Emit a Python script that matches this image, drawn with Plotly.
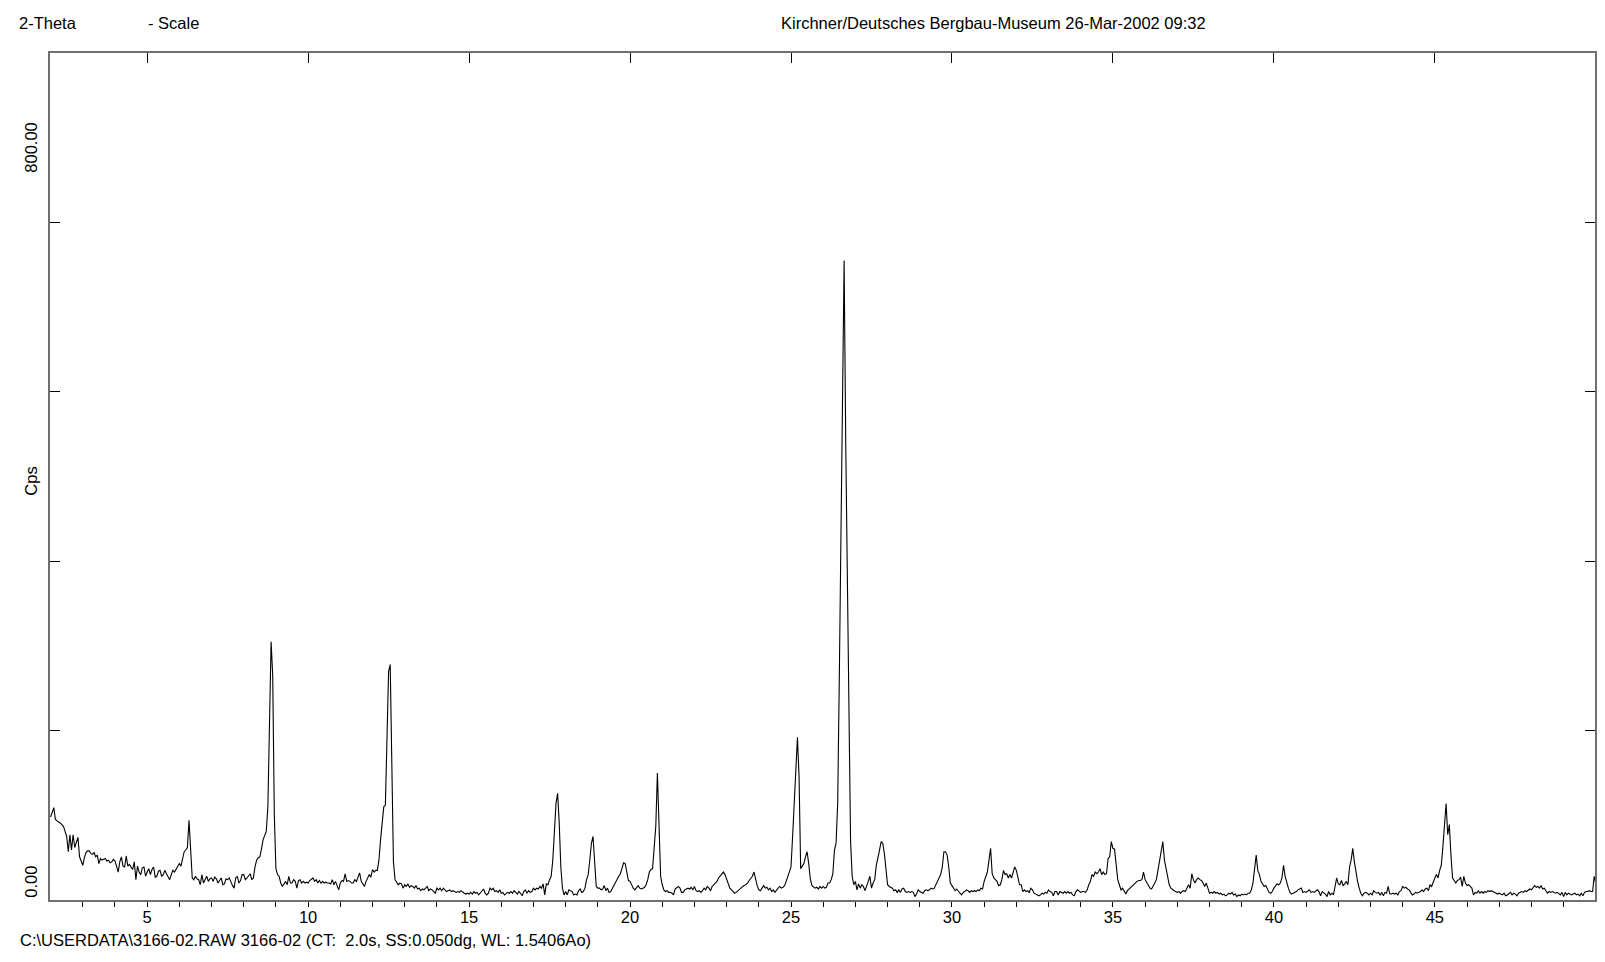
import plotly.graph_objects as go

# ---- data: XRD scan, 2-Theta from 2.00 to 50.00 deg, step 0.05 deg ----
START_DEG = 2
STEP = 0.05

# one row per degree (2.00..2.95, 3.00..3.95, ...), 20 readings per row, Cps
row_02 = [98, 104, 109, 95, 93, 92, 91, 89, 87, 81, 75, 57, 77, 59, 77, 62, 69, 74, 51, 46]
row_03 = [41, 50, 56, 58, 58, 55, 54, 56, 51, 53, 43, 49, 47, 48, 49, 46, 47, 44, 45, 48]
row_04 = [46, 40, 33, 45, 51, 40, 39, 52, 40, 42, 39, 36, 45, 24, 40, 33, 30, 38, 39, 28]
row_05 = [33, 37, 30, 36, 39, 27, 28, 34, 35, 28, 30, 35, 31, 27, 24, 30, 35, 33, 37, 40]
row_06 = [43, 40, 47, 57, 59, 62, 94, 55, 26, 24, 28, 25, 24, 18, 30, 20, 24, 28, 22, 25]
row_07 = [26, 22, 27, 25, 20, 24, 26, 18, 19, 25, 24, 26, 21, 17, 14, 26, 28, 20, 23, 30]
row_08 = [30, 24, 26, 28, 31, 24, 26, 39, 47, 50, 51, 60, 71, 76, 81, 110, 190, 305, 265, 100]
row_09 = [37, 30, 28, 20, 16, 20, 22, 18, 28, 20, 20, 24, 22, 14, 23, 24, 20, 22, 20, 21]
row_10 = [20, 23, 24, 26, 22, 24, 20, 23, 20, 22, 20, 21, 20, 20, 19, 24, 18, 22, 17, 12]
row_11 = [20, 23, 22, 31, 22, 23, 22, 20, 20, 24, 22, 26, 32, 22, 19, 16, 22, 26, 30, 27]
row_12 = [36, 33, 35, 35, 47, 71, 87, 110, 112, 180, 270, 278, 150, 45, 24, 20, 18, 20, 19, 14]
row_13 = [18, 16, 19, 15, 17, 16, 14, 17, 13, 14, 11, 13, 12, 14, 16, 11, 13, 12, 10, 8]
row_14 = [14, 12, 14, 11, 14, 12, 10, 11, 12, 10, 11, 10, 9, 10, 9, 11, 9, 8, 7, 8]
row_15 = [7, 9, 7, 10, 8, 9, 6, 8, 10, 13, 8, 6, 8, 14, 12, 14, 10, 11, 9, 12]
row_16 = [8, 9, 6, 8, 9, 8, 10, 8, 11, 9, 7, 10, 8, 5, 10, 12, 8, 11, 9, 10]
row_17 = [14, 12, 14, 13, 16, 14, 19, 6, 19, 18, 24, 28, 47, 79, 114, 126, 91, 39, 14, 6]
row_18 = [10, 6, 12, 11, 10, 6, 7, 6, 11, 13, 9, 10, 14, 24, 30, 47, 67, 75, 47, 16]
row_19 = [14, 14, 12, 13, 17, 11, 14, 9, 10, 14, 18, 20, 24, 28, 31, 39, 44, 43, 31, 23]
row_20 = [22, 17, 14, 12, 14, 17, 14, 13, 14, 15, 18, 24, 33, 36, 37, 63, 87, 150, 87, 28]
row_21 = [18, 12, 10, 11, 9, 9, 8, 6, 13, 14, 16, 14, 9, 9, 12, 13, 14, 13, 15, 12]
row_22 = [16, 11, 10, 11, 9, 11, 14, 12, 16, 14, 11, 16, 18, 20, 22, 26, 28, 31, 33, 30]
row_23 = [24, 18, 14, 12, 10, 8, 9, 11, 12, 14, 16, 17, 18, 20, 23, 26, 28, 33, 24, 17]
row_24 = [12, 11, 14, 17, 14, 15, 12, 14, 10, 12, 9, 12, 14, 16, 14, 15, 17, 22, 28, 33]
row_25 = [39, 75, 118, 157, 192, 146, 37, 40, 43, 51, 57, 43, 25, 17, 16, 14, 15, 13, 16, 14]
row_26 = [16, 14, 15, 20, 20, 24, 31, 59, 67, 114, 260, 450, 640, 755, 540, 360, 190, 70, 28, 18]
row_27 = [22, 12, 19, 14, 18, 16, 11, 18, 22, 28, 14, 20, 24, 41, 49, 59, 69, 67, 55, 31]
row_28 = [18, 16, 15, 14, 11, 12, 9, 12, 9, 13, 14, 10, 9, 10, 9, 10, 9, 4, 7, 12]
row_29 = [10, 9, 8, 11, 12, 11, 12, 14, 13, 14, 18, 22, 26, 30, 39, 57, 57, 53, 39, 20]
row_30 = [17, 14, 11, 13, 10, 8, 6, 9, 10, 12, 11, 9, 11, 10, 11, 10, 12, 11, 14, 13]
row_31 = [22, 28, 33, 47, 61, 31, 26, 24, 22, 17, 18, 24, 35, 30, 31, 26, 30, 26, 33, 39]
row_32 = [35, 26, 18, 18, 10, 12, 10, 11, 9, 14, 12, 8, 7, 6, 5, 6, 8, 7, 9, 8]
row_33 = [12, 10, 9, 5, 10, 10, 6, 10, 9, 8, 10, 8, 10, 8, 9, 6, 5, 10, 12, 10]
row_34 = [9, 10, 10, 9, 12, 18, 22, 30, 28, 33, 31, 33, 37, 30, 33, 30, 31, 49, 51, 69]
row_35 = [61, 60, 43, 24, 18, 12, 14, 11, 7, 11, 13, 14, 16, 18, 20, 22, 23, 23, 24, 33]
row_36 = [24, 20, 17, 14, 13, 16, 20, 24, 35, 47, 59, 69, 47, 37, 26, 18, 14, 12, 11, 10]
row_37 = [9, 10, 8, 10, 11, 10, 14, 18, 14, 31, 24, 20, 24, 26, 24, 23, 20, 16, 20, 14]
row_38 = [8, 9, 8, 10, 8, 9, 7, 8, 6, 7, 5, 6, 8, 7, 9, 6, 7, 4, 6, 5]
row_39 = [7, 6, 7, 6, 8, 8, 12, 20, 37, 53, 35, 30, 22, 18, 16, 17, 12, 9, 8, 10]
row_40 = [14, 17, 19, 18, 20, 26, 41, 28, 20, 14, 9, 7, 8, 9, 10, 12, 13, 14, 9, 10]
row_41 = [9, 10, 12, 9, 10, 9, 11, 12, 10, 5, 10, 9, 7, 4, 10, 6, 8, 6, 16, 26]
row_42 = [19, 18, 23, 17, 19, 22, 18, 39, 47, 61, 45, 30, 22, 14, 8, 5, 8, 9, 8, 6]
row_43 = [8, 6, 11, 9, 8, 9, 6, 9, 5, 9, 8, 16, 7, 7, 8, 7, 8, 6, 10, 11]
row_44 = [16, 14, 15, 13, 12, 9, 6, 7, 9, 8, 9, 10, 12, 10, 13, 14, 11, 18, 16, 22]
row_45 = [26, 30, 26, 35, 41, 63, 91, 114, 77, 89, 53, 26, 23, 20, 23, 24, 27, 16, 28, 20]
row_46 = [17, 18, 16, 14, 6, 9, 8, 11, 8, 10, 8, 10, 9, 11, 10, 11, 10, 9, 8, 7]
row_47 = [8, 7, 6, 8, 5, 6, 7, 9, 6, 8, 7, 5, 8, 9, 10, 9, 11, 10, 12, 13]
row_48 = [12, 14, 17, 15, 16, 14, 17, 13, 14, 11, 8, 10, 9, 10, 9, 8, 9, 7, 6, 9]
row_49 = [4, 9, 6, 8, 7, 6, 7, 8, 6, 7, 5, 8, 5, 9, 10, 10, 11, 10, 10, 28]
row_50 = [19]

cps_rows = [row_02, row_03, row_04, row_05, row_06, row_07, row_08, row_09, row_10,
            row_11, row_12, row_13, row_14, row_15, row_16, row_17, row_18, row_19,
            row_20, row_21, row_22, row_23, row_24, row_25, row_26, row_27, row_28,
            row_29, row_30, row_31, row_32, row_33, row_34, row_35, row_36, row_37,
            row_38, row_39, row_40, row_41, row_42, row_43, row_44, row_45, row_46,
            row_47, row_48, row_49, row_50]

x_major_ticks = [5, 10, 15, 20, 25, 30, 35, 40, 45]
x_minor_ticks = list(range(3, 50))
y_ticks = [200, 400, 600, 800]
x_range = [1.982, 49.975]
y_range = [0, 1000]

header_left = "2-Theta"
header_scale = "- Scale"
header_title = "Kirchner/Deutsches Bergbau-Museum 26-Mar-2002 09:32"
footer_text = "C:\\USERDATA\\3166-02.RAW 3166-02 (CT:  2.0s, SS:0.050dg, WL: 1.5406Ao)"
y_title = "Cps"
y_max_label = "800.00"
y_min_label = "0.00"

# ---- build series ----
two_theta = []
cps = []
for r, row in enumerate(cps_rows):
    for i, v in enumerate(row):
        two_theta.append(round(START_DEG + r + i * STEP, 2))
        cps.append(v)

FONT = "Liberation Sans Narrow, Arial Narrow, Liberation Sans, Arial, sans-serif"
FS = 16.5

fig = go.Figure()
fig.add_trace(go.Scatter(x=two_theta, y=cps, mode="lines",
                         line=dict(color="black", width=1.1),
                         hoverinfo="x+y", showlegend=False, cliponaxis=True))
# helper trace so that the top tick axis is rendered
fig.add_trace(go.Scatter(x=[two_theta[0], two_theta[-1]], y=[None, None], mode="lines",
                         xaxis="x2", showlegend=False, hoverinfo="skip"))

fig.update_layout(
    width=1605, height=962,
    margin=dict(l=50, r=8, t=53, b=62),
    paper_bgcolor="white", plot_bgcolor="white",
    font=dict(family=FONT, size=FS, color="black"),
    xaxis=dict(range=x_range, showgrid=False, zeroline=False,
               showline=True, linecolor="#707070", linewidth=2, mirror=True,
               ticks="outside", ticklen=5, tickwidth=1, tickcolor="black",
               tickvals=x_minor_ticks,
               ticktext=[str(t) if t in x_major_ticks else "" for t in x_minor_ticks],
               ticklabelstandoff=-4,
               tickfont=dict(family=FONT, size=FS)),
    xaxis2=dict(range=x_range, overlaying="x", side="top", anchor="y",
                showgrid=False, zeroline=False, showline=False,
                ticks="inside", ticklen=10, tickwidth=1, tickcolor="black",
                tickvals=x_major_ticks, showticklabels=False),
    yaxis=dict(range=y_range, showgrid=False, zeroline=False,
               showline=True, linecolor="#707070", linewidth=2, mirror="ticks",
               ticks="inside", ticklen=10, tickwidth=1, tickcolor="black",
               tickvals=y_ticks, showticklabels=False),
)

def ann(text, x, y, xanchor="left", angle=0):
    fig.add_annotation(text=text, x=x, y=y, xref="paper", yref="paper",
                       xanchor=xanchor, yanchor="middle", showarrow=False,
                       textangle=angle, font=dict(family=FONT, size=FS, color="black"))

ann(header_left, -0.0213, 1.036)
ann(header_scale, 0.0621, 1.036)
ann(header_title, 0.4719, 1.036)
ann(footer_text, -0.0207, -0.0472)
ann(y_title, -0.0125, 0.4947, xanchor="center", angle=-90)
ann(y_max_label, -0.0125, 0.8878, xanchor="center", angle=-90)
ann(y_min_label, -0.0125, 0.0212, xanchor="center", angle=-90)

fig.write_html("out.html",
               config={"displayModeBar": False},
               post_script="document.body.style.margin='0';document.body.style.padding='0';")
